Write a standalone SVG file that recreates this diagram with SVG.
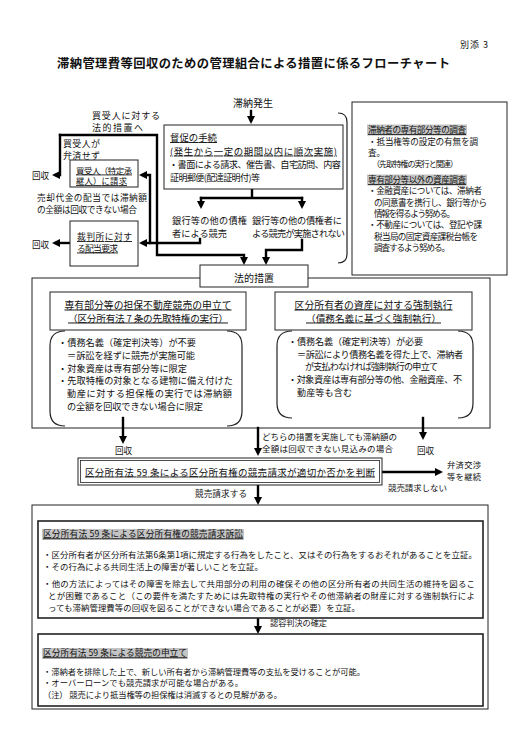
<svg xmlns="http://www.w3.org/2000/svg" width="516" height="730" viewBox="0 0 516 730">
<style>
text{font-family:"Noto Sans CJK JP","Noto Sans CJK SC",sans-serif;fill:#111;}
.u{text-decoration:underline}
.box{fill:#fff;stroke:#222;stroke-width:1}
.ibox{fill:#fff;stroke:#222;stroke-width:1.6}
.br{fill:none;stroke:#222;stroke-width:1.2}
.ln{fill:none;stroke:#000;stroke-width:2.4;stroke-linecap:square;stroke-linejoin:miter}
.ar{marker-end:url(#ah)}
.hl{fill:#c4c4c4}
</style>
<defs>
<marker id="ah" markerUnits="userSpaceOnUse" markerWidth="9" markerHeight="9" refX="4" refY="4" orient="auto"><path d="M0,0 L8,4 L0,8 z" fill="#000"/></marker>
</defs>
<rect width="516" height="730" fill="#fff"/>

<g id="header">
<text x="460" y="47.5" font-size="9" textLength="28">別添 3</text>
<text x="253.5" y="67.5" font-size="12.3" font-weight="bold" text-anchor="middle" textLength="393">滞納管理費等回収のための管理組合による措置に係るフローチャート</text>
</g>

<g id="frames">
<rect id="legal-frame" class="box" x="32" y="278" width="458" height="150" fill="none"/>
<rect id="suit-frame" class="box" x="32" y="505" width="456" height="204"/>
</g>

<g id="connectors">
<path class="ln ar" d="M251,111 V120"/>
<path class="ln" d="M252,189 V198 M201,198 H302"/>
<path class="ln ar" d="M201,198 V205"/>
<path class="ln ar" d="M302,198 V205"/>
<path class="ln ar" d="M200,239 V243 H150 V175 H143"/>
<path class="ln ar" d="M150,243 H143"/>
<path class="ln ar" d="M60,135 H157 V255 H244 V261"/>
<path class="ln ar" d="M60,135 V175 H56"/>
<path class="ln ar" d="M70,243 H56"/>
<path class="ln ar" d="M302,240 V250 H266 V261"/>
<path class="ln ar" d="M123,418 V440"/>
<path class="ln ar" d="M423,418 V436"/>
<path class="ln ar" d="M258,428 V452"/>
<path class="ln ar" d="M382,472 H439"/>
<path class="ln ar" d="M258,485 V501"/>
<path class="ln ar" d="M258,618 V630"/>
<path class="br" d="M338,113 Q347,113 347,122 V254 Q347,263 338,263"/>
</g>

<g id="labels">
<text x="233" y="107" font-size="10" textLength="40">滞納発生</text>
<text x="92" y="119" font-size="9" textLength="68">買受人に対する</text>
<text x="92" y="130.5" font-size="9" textLength="51">法的措置へ</text>
<text x="63" y="146.5" font-size="9" textLength="37">買受人が</text>
<text x="63" y="158.5" font-size="9" textLength="37">弁済せず</text>
<text x="32" y="178.5" font-size="8.6" textLength="17">回収</text>
<text x="32" y="247.5" font-size="8.6" textLength="17">回収</text>
<text x="37" y="201" font-size="8.7" textLength="110">売却代金の配当では滞納額</text>
<text x="37" y="212.5" font-size="8.7" textLength="100">の全額は回収できない場合</text>
<text x="172" y="223.5" font-size="9.2" textLength="75">銀行等の他の債権</text>
<text x="172" y="236.5" font-size="9.2" textLength="55">者による競売</text>
<text x="252" y="223.5" font-size="9.2" textLength="90">銀行等の他の債権者に</text>
<text x="252" y="236.5" font-size="9.2" textLength="93">よる競売が実施されない</text>
<text x="115" y="454" font-size="8.6" textLength="17">回収</text>
<text x="417" y="454" font-size="8.6" textLength="17">回収</text>
<text x="262" y="440" font-size="8.5" textLength="135">どちらの措置を実施しても滞納額の</text>
<text x="262" y="451.5" font-size="8.5" textLength="131">全額は回収できない見込みの場合</text>
<text x="447" y="468" font-size="8.3" textLength="34">弁済交渉</text>
<text x="447" y="480" font-size="8.3" textLength="34">等を継続</text>
<text x="388" y="490.5" font-size="8.5" textLength="59">競売請求しない</text>
<text x="195" y="496.5" font-size="8.6" textLength="52">競売請求する</text>
<text x="270" y="626" font-size="8.2" textLength="57">認容判決の確定</text>
</g>

<g id="n-tokusoku">
<rect class="box" x="164" y="125" width="179" height="64"/>
<text x="170" y="141" font-size="9.4" class="u" textLength="47">督促の手続</text>
<text x="170" y="154.5" font-size="9.4" class="u" textLength="167">(発生から一定の期間以内に順次実施)</text>
<text x="169" y="167.5" font-size="9.2" textLength="172">・書面による請求、催告書、自宅訪問、内容</text>
<text x="170" y="180.5" font-size="9" textLength="90">証明郵便(配達証明付)等</text>
</g>

<g id="n-kaiukenin">
<rect class="box" x="70" y="160" width="68" height="27"/>
<text x="76" y="173.5" font-size="8.4" class="u" textLength="56">買受人（特定承</text>
<text x="76" y="184" font-size="8.4" class="u" textLength="51">継人）に請求</text>
</g>

<g id="n-saibansho">
<rect class="box" x="70" y="221" width="68" height="45"/>
<text x="77" y="240" font-size="8.8" class="u" textLength="55">裁判所に対す</text>
<text x="77" y="251.5" font-size="8.8" class="u" textLength="41">る配当要求</text>
</g>

<g id="n-chosa">
<rect class="box" x="352" y="102" width="155" height="173"/>
<rect class="hl" x="367" y="124.5" width="100" height="11"/>
<text x="368" y="133.2" font-size="8.6" class="u" textLength="98">滞納者の専有部分等の調査</text>
<text x="368" y="145.2" font-size="8.6" textLength="110">・抵当権等の設定の有無を調</text>
<text x="368" y="156.2" font-size="8.6">査。</text>
<text x="372" y="167.2" font-size="8.1" textLength="86">（先取特権の実行と関連）</text>
<rect class="hl" x="367" y="174.5" width="100" height="11"/>
<text x="368" y="183.2" font-size="8.6" class="u" textLength="98">専有部分等以外の資産調査</text>
<text x="368" y="194.2" font-size="8.6" textLength="114">・金融資産については、滞納者</text>
<text x="374" y="206.2" font-size="8.6" textLength="113">の同意書を携行し、銀行等から</text>
<text x="374" y="217.2" font-size="8.6" textLength="81">情報を得るよう努める。</text>
<text x="368" y="228.2" font-size="8.6" textLength="114">・不動産については、登記や課</text>
<text x="374" y="240.2" font-size="8.6" textLength="104">税当局の固定資産課税台帳を</text>
<text x="374" y="251.2" font-size="8.6" textLength="76">調査するよう努める。</text>
</g>

<g id="n-hoteki">
<rect class="box" x="200" y="265" width="108" height="22"/>
<text x="254" y="281.5" font-size="10" text-anchor="middle" textLength="40">法的措置</text>
</g>

<g id="n-keibai">
<rect class="box" x="50" y="292" width="196" height="38"/>
<text x="148" y="308.5" font-size="9.8" class="u" text-anchor="middle" textLength="167">専有部分等の担保不動産競売の申立て</text>
<text x="148" y="321.5" font-size="9.6" class="u" text-anchor="middle" textLength="160">（区分所有法 7 条の先取特権の実行）</text>
</g>

<g id="n-keibai-detail">
<path class="br" d="M65,331 Q50,331 50,346 V411 Q50,426 65,426 M227,331 Q242,331 242,346 V411 Q242,426 227,426"/>
<text x="58" y="345.5" font-size="9.2" textLength="138">・債務名義（確定判決等）が不要</text>
<text x="67" y="358.5" font-size="9.2" textLength="128">＝訴訟を経ずに競売が実施可能</text>
<text x="58" y="371.5" font-size="9.2" textLength="129">・対象資産は専有部分等に限定</text>
<text x="58" y="384" font-size="9.2" textLength="175">・先取特権の対象となる建物に備え付けた</text>
<text x="67" y="396.5" font-size="9.2" textLength="165">動産に対する担保権の実行では滞納額</text>
<text x="67" y="409.5" font-size="9.2" textLength="136">の全額を回収できない場合に限定</text>
</g>

<g id="n-kyosei">
<rect class="box" x="275" y="292" width="197" height="38"/>
<text x="373.5" y="308.5" font-size="9.8" class="u" text-anchor="middle" textLength="158">区分所有者の資産に対する強制執行</text>
<text x="373.5" y="321.5" font-size="9.6" class="u" text-anchor="middle" textLength="135">（債務名義に基づく強制執行）</text>
</g>

<g id="n-kyosei-detail">
<path class="br" d="M292,331 Q277,331 277,346 V403 Q277,418 292,418 M458,331 Q473,331 473,346 V403 Q473,418 458,418"/>
<text x="288" y="345" font-size="9.1" textLength="135">・債務名義（確定判決等）が必要</text>
<text x="297" y="357.7" font-size="9.1" textLength="166">＝訴訟により債務名義を得た上で、滞納者</text>
<text x="305" y="370.4" font-size="9.1" textLength="133">が支払わなければ強制執行の申立て</text>
<text x="288" y="383.1" font-size="9.1" textLength="174">・対象資産は専有部分等の他、金融資産、不</text>
<text x="297" y="395.8" font-size="9.1" textLength="55">動産等も含む</text>
</g>

<g id="n-handan">
<rect class="box" x="78" y="458" width="304" height="27"/>
<rect fill="none" stroke="#222" stroke-width="0.8" x="80.5" y="460.5" width="299" height="22"/>
<text x="85" y="475.5" font-size="9.5" class="u" textLength="290">区分所有法 59 条による区分所有権の競売請求が適切か否かを判断</text>
</g>

<g id="n-sosho">
<rect class="ibox" x="38" y="521" width="445" height="97"/>
<rect class="hl" x="42" y="529" width="202" height="11"/>
<text x="43" y="537.3" font-size="8.7" class="u" textLength="200">区分所有法 59 条による区分所有権の競売請求訴訟</text>
<text x="43" y="558.3" font-size="8.45" textLength="434">・区分所有者が区分所有法第6条第1項に規定する行為をしたこと、又はその行為をするおそれがあることを立証。</text>
<text x="43" y="570.3" font-size="8.45" textLength="220">・その行為による共同生活上の障害が著しいことを立証。</text>
<text x="43" y="587.3" font-size="8.45" textLength="432">・他の方法によってはその障害を除去して共用部分の利用の確保その他の区分所有者の共同生活の維持を図るこ</text>
<text x="48" y="599.3" font-size="8.45" textLength="427">とが困難であること（この要件を満たすためには先取特権の実行やその他滞納者の財産に対する強制執行によ</text>
<text x="48" y="611.3" font-size="8.45" textLength="312">っても滞納管理費等の回収を図ることができない場合であることが必要）を立証。</text>
</g>

<g id="n-moshitate">
<rect class="ibox" x="38" y="634" width="445" height="72"/>
<rect class="hl" x="42" y="648" width="146" height="11"/>
<text x="43" y="656.3" font-size="8.7" class="u" textLength="144">区分所有法 59 条による競売の申立て</text>
<text x="43" y="675.2" font-size="8.3" textLength="322">・滞納者を排除した上で、新しい所有者から滞納管理費等の支払を受けることが可能。</text>
<text x="43" y="686.2" font-size="8.3" textLength="200">・オーバーローンでも競売請求が可能な場合がある。</text>
<text x="43" y="698.2" font-size="8.3" textLength="239">（注） 競売により抵当権等の担保権は消滅するとの見解がある。</text>
</g>
</svg>
